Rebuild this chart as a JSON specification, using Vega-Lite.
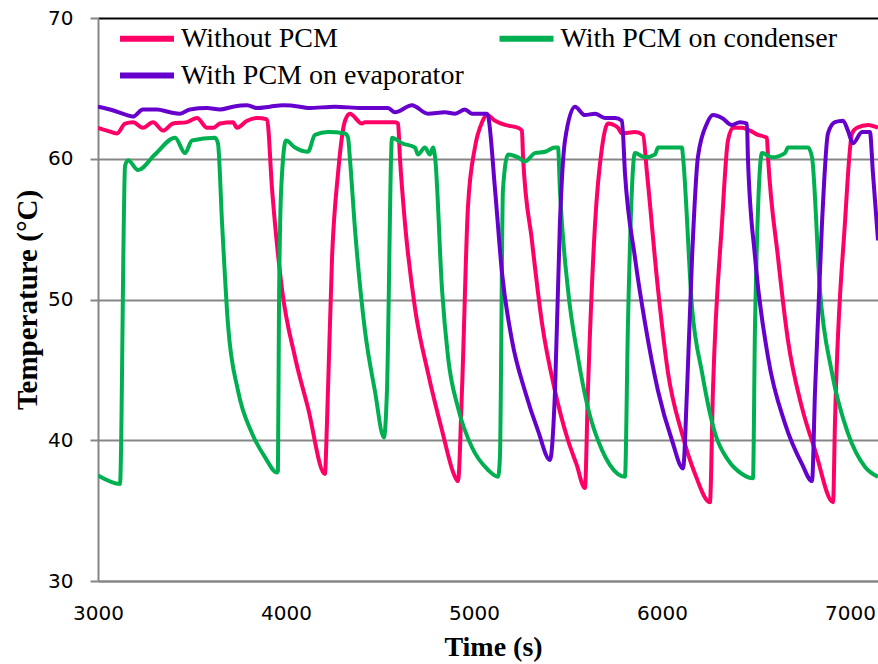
{
  "$schema": "https://vega.github.io/schema/vega-lite/v6.json",
  "width": 780,
  "height": 563,
  "autosize": {"type": "none"},
  "padding": {"left": 98, "top": 18, "right": 0, "bottom": 83},
  "background": "white",
  "config": {"view": {"stroke": null}, "font": "Liberation Serif"},
  "data": {"values": [
{"series":"Without PCM","t":3000,"v":62.2},{"series":"Without PCM","t":3048,"v":62.0},{"series":"Without PCM","t":3101,"v":61.8},{"series":"Without PCM","t":3144,"v":62.5},{"series":"Without PCM","t":3186,"v":62.6},{"series":"Without PCM","t":3239,"v":62.2},{"series":"Without PCM","t":3293,"v":62.6},{"series":"Without PCM","t":3346,"v":62.0},{"series":"Without PCM","t":3399,"v":62.5},{"series":"Without PCM","t":3473,"v":62.6},{"series":"Without PCM","t":3527,"v":62.9},{"series":"Without PCM","t":3580,"v":62.2},{"series":"Without PCM","t":3612,"v":62.2},{"series":"Without PCM","t":3649,"v":62.5},{"series":"Without PCM","t":3718,"v":62.6},{"series":"Without PCM","t":3739,"v":62.2},{"series":"Without PCM","t":3793,"v":62.7},{"series":"Without PCM","t":3846,"v":62.9},{"series":"Without PCM","t":3899,"v":62.8},{"series":"Without PCM","t":3926,"v":57.8},{"series":"Without PCM","t":3979,"v":50.7},{"series":"Without PCM","t":4048,"v":45.9},{"series":"Without PCM","t":4117,"v":42.3},{"series":"Without PCM","t":4207,"v":37.6},{"series":"Without PCM","t":4218,"v":41.2},{"series":"Without PCM","t":4245,"v":53.0},{"series":"Without PCM","t":4277,"v":59.0},{"series":"Without PCM","t":4314,"v":62.7},{"series":"Without PCM","t":4340,"v":63.2},{"series":"Without PCM","t":4404,"v":62.5},{"series":"Without PCM","t":4420,"v":62.6},{"series":"Without PCM","t":4500,"v":62.6},{"series":"Without PCM","t":4580,"v":62.6},{"series":"Without PCM","t":4596,"v":62.5},{"series":"Without PCM","t":4606,"v":60.1},{"series":"Without PCM","t":4633,"v":55.4},{"series":"Without PCM","t":4686,"v":49.4},{"series":"Without PCM","t":4755,"v":44.8},{"series":"Without PCM","t":4830,"v":40.7},{"series":"Without PCM","t":4899,"v":37.4},{"series":"Without PCM","t":4915,"v":37.1},{"series":"Without PCM","t":4936,"v":43.5},{"series":"Without PCM","t":4968,"v":56.6},{"series":"Without PCM","t":5005,"v":60.8},{"series":"Without PCM","t":5043,"v":62.6},{"series":"Without PCM","t":5069,"v":63.1},{"series":"Without PCM","t":5112,"v":62.7},{"series":"Without PCM","t":5165,"v":62.4},{"series":"Without PCM","t":5234,"v":62.2},{"series":"Without PCM","t":5255,"v":62.0},{"series":"Without PCM","t":5261,"v":60.1},{"series":"Without PCM","t":5308,"v":54.2},{"series":"Without PCM","t":5362,"v":48.3},{"series":"Without PCM","t":5431,"v":43.5},{"series":"Without PCM","t":5500,"v":40.0},{"series":"Without PCM","t":5545,"v":38.3},{"series":"Without PCM","t":5590,"v":36.6},{"series":"Without PCM","t":5606,"v":43.5},{"series":"Without PCM","t":5644,"v":55.4},{"series":"Without PCM","t":5681,"v":60.8},{"series":"Without PCM","t":5713,"v":62.5},{"series":"Without PCM","t":5766,"v":62.2},{"series":"Without PCM","t":5787,"v":61.8},{"series":"Without PCM","t":5856,"v":61.9},{"series":"Without PCM","t":5899,"v":61.7},{"series":"Without PCM","t":5920,"v":59.0},{"series":"Without PCM","t":5979,"v":50.7},{"series":"Without PCM","t":6032,"v":44.8},{"series":"Without PCM","t":6106,"v":40.5},{"series":"Without PCM","t":6176,"v":37.6},{"series":"Without PCM","t":6255,"v":35.6},{"series":"Without PCM","t":6271,"v":43.5},{"series":"Without PCM","t":6319,"v":55.4},{"series":"Without PCM","t":6351,"v":61.3},{"series":"Without PCM","t":6378,"v":62.2},{"series":"Without PCM","t":6426,"v":62.2},{"series":"Without PCM","t":6468,"v":62.0},{"series":"Without PCM","t":6511,"v":61.7},{"series":"Without PCM","t":6558,"v":61.5},{"series":"Without PCM","t":6564,"v":60.1},{"series":"Without PCM","t":6617,"v":53.0},{"series":"Without PCM","t":6670,"v":47.1},{"series":"Without PCM","t":6745,"v":42.3},{"series":"Without PCM","t":6814,"v":39.3},{"series":"Without PCM","t":6910,"v":35.6},{"series":"Without PCM","t":6920,"v":41.2},{"series":"Without PCM","t":6973,"v":55.4},{"series":"Without PCM","t":7011,"v":61.8},{"series":"Without PCM","t":7037,"v":62.2},{"series":"Without PCM","t":7096,"v":62.4},{"series":"Without PCM","t":7149,"v":62.2},
{"series":"With PCM on condenser","t":3000,"v":37.5},{"series":"With PCM on condenser","t":3117,"v":36.9},{"series":"With PCM on condenser","t":3144,"v":59.5},{"series":"With PCM on condenser","t":3160,"v":59.9},{"series":"With PCM on condenser","t":3213,"v":59.2},{"series":"With PCM on condenser","t":3303,"v":60.3},{"series":"With PCM on condenser","t":3410,"v":61.5},{"series":"With PCM on condenser","t":3463,"v":60.4},{"series":"With PCM on condenser","t":3500,"v":61.3},{"series":"With PCM on condenser","t":3622,"v":61.5},{"series":"With PCM on condenser","t":3638,"v":61.1},{"series":"With PCM on condenser","t":3660,"v":55.4},{"series":"With PCM on condenser","t":3691,"v":48.3},{"series":"With PCM on condenser","t":3745,"v":43.5},{"series":"With PCM on condenser","t":3819,"v":40.5},{"series":"With PCM on condenser","t":3888,"v":38.8},{"series":"With PCM on condenser","t":3952,"v":37.7},{"series":"With PCM on condenser","t":3957,"v":37.8},{"series":"With PCM on condenser","t":3963,"v":50.0},{"series":"With PCM on condenser","t":3975,"v":58.0},{"series":"With PCM on condenser","t":4000,"v":61.3},{"series":"With PCM on condenser","t":4048,"v":60.8},{"series":"With PCM on condenser","t":4117,"v":60.5},{"series":"With PCM on condenser","t":4154,"v":61.7},{"series":"With PCM on condenser","t":4223,"v":61.9},{"series":"With PCM on condenser","t":4314,"v":61.8},{"series":"With PCM on condenser","t":4330,"v":61.5},{"series":"With PCM on condenser","t":4340,"v":60.0},{"series":"With PCM on condenser","t":4367,"v":55.0},{"series":"With PCM on condenser","t":4420,"v":47.8},{"series":"With PCM on condenser","t":4473,"v":43.5},{"series":"With PCM on condenser","t":4521,"v":40.2},{"series":"With PCM on condenser","t":4537,"v":43.5},{"series":"With PCM on condenser","t":4564,"v":61.5},{"series":"With PCM on condenser","t":4617,"v":61.1},{"series":"With PCM on condenser","t":4686,"v":60.8},{"series":"With PCM on condenser","t":4702,"v":60.3},{"series":"With PCM on condenser","t":4739,"v":60.8},{"series":"With PCM on condenser","t":4766,"v":60.3},{"series":"With PCM on condenser","t":4782,"v":60.8},{"series":"With PCM on condenser","t":4793,"v":60.1},{"series":"With PCM on condenser","t":4830,"v":50.7},{"series":"With PCM on condenser","t":4862,"v":45.9},{"series":"With PCM on condenser","t":4915,"v":42.3},{"series":"With PCM on condenser","t":4989,"v":39.5},{"series":"With PCM on condenser","t":5074,"v":37.9},{"series":"With PCM on condenser","t":5128,"v":37.4},{"series":"With PCM on condenser","t":5138,"v":38.8},{"series":"With PCM on condenser","t":5154,"v":57.8},{"series":"With PCM on condenser","t":5181,"v":60.3},{"series":"With PCM on condenser","t":5234,"v":60.1},{"series":"With PCM on condenser","t":5271,"v":59.8},{"series":"With PCM on condenser","t":5324,"v":60.4},{"series":"With PCM on condenser","t":5378,"v":60.5},{"series":"With PCM on condenser","t":5431,"v":60.8},{"series":"With PCM on condenser","t":5447,"v":60.8},{"series":"With PCM on condenser","t":5457,"v":57.8},{"series":"With PCM on condenser","t":5500,"v":50.7},{"series":"With PCM on condenser","t":5553,"v":45.9},{"series":"With PCM on condenser","t":5606,"v":42.3},{"series":"With PCM on condenser","t":5681,"v":39.3},{"series":"With PCM on condenser","t":5766,"v":37.6},{"series":"With PCM on condenser","t":5803,"v":37.4},{"series":"With PCM on condenser","t":5819,"v":48.3},{"series":"With PCM on condenser","t":5856,"v":60.4},{"series":"With PCM on condenser","t":5910,"v":60.1},{"series":"With PCM on condenser","t":5963,"v":60.3},{"series":"With PCM on condenser","t":5979,"v":60.8},{"series":"With PCM on condenser","t":6032,"v":60.8},{"series":"With PCM on condenser","t":6106,"v":60.8},{"series":"With PCM on condenser","t":6112,"v":60.1},{"series":"With PCM on condenser","t":6160,"v":49.4},{"series":"With PCM on condenser","t":6213,"v":44.8},{"series":"With PCM on condenser","t":6282,"v":40.5},{"series":"With PCM on condenser","t":6351,"v":38.6},{"series":"With PCM on condenser","t":6426,"v":37.6},{"series":"With PCM on condenser","t":6484,"v":37.3},{"series":"With PCM on condenser","t":6495,"v":48.3},{"series":"With PCM on condenser","t":6532,"v":60.4},{"series":"With PCM on condenser","t":6585,"v":60.1},{"series":"With PCM on condenser","t":6654,"v":60.4},{"series":"With PCM on condenser","t":6670,"v":60.8},{"series":"With PCM on condenser","t":6777,"v":60.8},{"series":"With PCM on condenser","t":6798,"v":60.1},{"series":"With PCM on condenser","t":6840,"v":50.7},{"series":"With PCM on condenser","t":6904,"v":44.8},{"series":"With PCM on condenser","t":6989,"v":40.5},{"series":"With PCM on condenser","t":7080,"v":38.1},{"series":"With PCM on condenser","t":7149,"v":37.4},
{"series":"With PCM on evaporator","t":3000,"v":63.7},{"series":"With PCM on evaporator","t":3064,"v":63.5},{"series":"With PCM on evaporator","t":3154,"v":63.1},{"series":"With PCM on evaporator","t":3186,"v":63.0},{"series":"With PCM on evaporator","t":3239,"v":63.5},{"series":"With PCM on evaporator","t":3314,"v":63.5},{"series":"With PCM on evaporator","t":3383,"v":63.3},{"series":"With PCM on evaporator","t":3436,"v":63.2},{"series":"With PCM on evaporator","t":3489,"v":63.5},{"series":"With PCM on evaporator","t":3580,"v":63.6},{"series":"With PCM on evaporator","t":3649,"v":63.5},{"series":"With PCM on evaporator","t":3718,"v":63.7},{"series":"With PCM on evaporator","t":3793,"v":63.8},{"series":"With PCM on evaporator","t":3846,"v":63.6},{"series":"With PCM on evaporator","t":3915,"v":63.7},{"series":"With PCM on evaporator","t":3984,"v":63.8},{"series":"With PCM on evaporator","t":4074,"v":63.7},{"series":"With PCM on evaporator","t":4117,"v":63.6},{"series":"With PCM on evaporator","t":4261,"v":63.7},{"series":"With PCM on evaporator","t":4404,"v":63.6},{"series":"With PCM on evaporator","t":4457,"v":63.6},{"series":"With PCM on evaporator","t":4543,"v":63.6},{"series":"With PCM on evaporator","t":4580,"v":63.3},{"series":"With PCM on evaporator","t":4670,"v":63.8},{"series":"With PCM on evaporator","t":4755,"v":63.2},{"series":"With PCM on evaporator","t":4846,"v":63.3},{"series":"With PCM on evaporator","t":4899,"v":63.2},{"series":"With PCM on evaporator","t":4952,"v":63.5},{"series":"With PCM on evaporator","t":4989,"v":63.2},{"series":"With PCM on evaporator","t":5069,"v":63.2},{"series":"With PCM on evaporator","t":5074,"v":63.1},{"series":"With PCM on evaporator","t":5112,"v":57.8},{"series":"With PCM on evaporator","t":5149,"v":51.9},{"series":"With PCM on evaporator","t":5202,"v":47.1},{"series":"With PCM on evaporator","t":5271,"v":43.5},{"series":"With PCM on evaporator","t":5340,"v":40.7},{"series":"With PCM on evaporator","t":5404,"v":38.6},{"series":"With PCM on evaporator","t":5431,"v":43.5},{"series":"With PCM on evaporator","t":5457,"v":55.4},{"series":"With PCM on evaporator","t":5484,"v":61.3},{"series":"With PCM on evaporator","t":5537,"v":63.7},{"series":"With PCM on evaporator","t":5590,"v":63.1},{"series":"With PCM on evaporator","t":5644,"v":63.2},{"series":"With PCM on evaporator","t":5697,"v":62.9},{"series":"With PCM on evaporator","t":5750,"v":62.9},{"series":"With PCM on evaporator","t":5787,"v":62.7},{"series":"With PCM on evaporator","t":5803,"v":59.0},{"series":"With PCM on evaporator","t":5856,"v":53.0},{"series":"With PCM on evaporator","t":5910,"v":48.3},{"series":"With PCM on evaporator","t":5979,"v":43.5},{"series":"With PCM on evaporator","t":6053,"v":40.0},{"series":"With PCM on evaporator","t":6112,"v":38.0},{"series":"With PCM on evaporator","t":6133,"v":43.5},{"series":"With PCM on evaporator","t":6160,"v":53.0},{"series":"With PCM on evaporator","t":6191,"v":60.1},{"series":"With PCM on evaporator","t":6239,"v":62.5},{"series":"With PCM on evaporator","t":6271,"v":63.1},{"series":"With PCM on evaporator","t":6319,"v":62.9},{"series":"With PCM on evaporator","t":6372,"v":62.4},{"series":"With PCM on evaporator","t":6415,"v":62.6},{"series":"With PCM on evaporator","t":6452,"v":62.5},{"series":"With PCM on evaporator","t":6457,"v":60.1},{"series":"With PCM on evaporator","t":6495,"v":53.0},{"series":"With PCM on evaporator","t":6564,"v":45.9},{"series":"With PCM on evaporator","t":6654,"v":41.2},{"series":"With PCM on evaporator","t":6745,"v":38.3},{"series":"With PCM on evaporator","t":6798,"v":37.1},{"series":"With PCM on evaporator","t":6814,"v":43.5},{"series":"With PCM on evaporator","t":6851,"v":55.4},{"series":"With PCM on evaporator","t":6883,"v":61.8},{"series":"With PCM on evaporator","t":6920,"v":62.6},{"series":"With PCM on evaporator","t":6963,"v":62.7},{"series":"With PCM on evaporator","t":6989,"v":62.0},{"series":"With PCM on evaporator","t":7016,"v":61.1},{"series":"With PCM on evaporator","t":7064,"v":61.9},{"series":"With PCM on evaporator","t":7106,"v":61.9},{"series":"With PCM on evaporator","t":7122,"v":59.0},{"series":"With PCM on evaporator","t":7149,"v":54.2}
  ]},
  "mark": {"type": "line", "strokeWidth": 4, "interpolate": "monotone", "clip": true},
  "encoding": {
    "x": {
      "field": "t", "type": "quantitative",
      "scale": {"domain": [3000, 7149], "nice": false, "zero": false},
      "axis": {
        "title": "Time (s)", "values": [3000, 4000, 5000, 6000, 7000], "format": "d",
        "ticks": false, "tickSize": 0, "grid": false,
        "domainColor": "#868686", "domainWidth": 2,
        "labelFont": "DejaVu Sans", "labelFontSize": 20, "labelColor": "#000",
        "labelPadding": 38, "labelBaseline": "alphabetic", "labelFlush": false,
        "titleFont": "Liberation Serif", "titleFontSize": 28, "titleFontWeight": "bold", "titleColor": "#000",
        "titleX": 395, "titleY": 74, "titleBaseline": "alphabetic", "titleAlign": "center"
      }
    },
    "y": {
      "field": "v", "type": "quantitative",
      "scale": {"domain": [30, 70], "nice": false, "zero": false},
      "axis": {
        "title": "Temperature (°C)", "values": [30, 40, 50, 60, 70],
        "tickSize": 8, "tickColor": "#868686", "tickWidth": 2,
        "grid": true, "gridWidth": 2,
        "gridColor": {"condition": {"test": "datum.value === 70", "value": "#000000"}, "value": "#868686"},
        "domainColor": "#868686", "domainWidth": 2,
        "labelFont": "DejaVu Sans", "labelFontSize": 20, "labelColor": "#000", "labelPadding": 17,
        "titleFont": "Liberation Serif", "titleFontSize": 29, "titleFontWeight": "bold", "titleColor": "#000",
        "titleX": -62, "titleY": 281.5, "titleAngle": 270, "titleBaseline": "alphabetic", "titleAlign": "center"
      }
    },
    "color": {
      "field": "series", "type": "nominal",
      "scale": {
        "domain": ["Without PCM", "With PCM on condenser", "With PCM on evaporator"],
        "range": ["#FF0066", "#00B050", "#6600CC"]
      },
      "legend": {
        "title": null, "orient": "none", "legendX": 5.5, "legendY": 4, "columns": 2, "direction": "horizontal",
        "symbolType": "M0,0H4", "symbolSize": 729, "symbolStrokeWidth": 6,
        "labelFont": "Liberation Serif", "labelFontSize": 28, "labelColor": "#000", "labelOffset": 44.5,
        "labelLimit": 0, "columnPadding": 18.5, "rowPadding": 6, "padding": 0
      }
    }
  }
}
